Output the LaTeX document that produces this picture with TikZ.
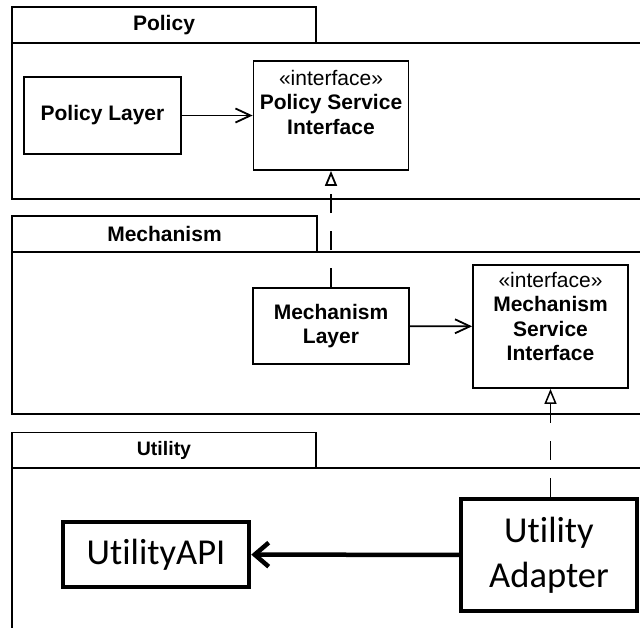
\documentclass[tikz,border=0pt]{standalone}
\usepackage{fontspec}
\setmainfont{Liberation Sans}
\newfontfamily\carlito[Ligatures=NoCommon]{Carlito}
\usetikzlibrary{positioning}
\usetikzlibrary{arrows.meta}

\begin{document}
\begin{tikzpicture}[x=1pt, y=-1pt,
	pkgtab/.style={rectangle, draw, line width=1.8pt, minimum width=304pt, minimum height=36pt, inner sep=0pt, font=\bfseries\fontsize{21}{24}\selectfont},
	pkgbody/.style={line width=1.8pt},
	umlbox/.style={rectangle, draw, line width=1.8pt, inner sep=0pt, align=center, font=\fontsize{21}{24.5}\selectfont},
	newbox/.style={rectangle, draw, line width=4.5pt, inner sep=0pt, align=center, font=\carlito\fontsize{36.5}{45}\selectfont},
	uses/.style={line width=1.8pt, -{Straight Barb[length=15pt, width=14pt]}},
	realizes/.style={line width=1.8pt, dash pattern=on 19pt off 18pt, -{Triangle[open, length=15pt, width=12pt]}},
	calls/.style={line width=4.5pt, -{Straight Barb[length=14pt, width=24pt]}}
	]
		\useasboundingbox (0,0) rectangle (640,627);
		\clip (0,0) rectangle (640,627);

		% Policy package
		\node[pkgtab] (policy_tab) at (164,25) {Policy};
		\draw[pkgbody] (12,43) rectangle (680,199);

		\node[umlbox, minimum width=157pt, minimum height=77pt] (PL) at (102.5,115.5) {\textbf{Policy Layer}};
		\node[umlbox, minimum width=155pt, minimum height=109pt] (PSI) at (331,115.5) {};
		\node[umlbox, draw=none, below=9pt of PSI.north, anchor=north] (PSI_label) {«interface»\\ \textbf{Policy Service}\\ \textbf{Interface}};

		\draw[uses] (PL) -- (PSI);

		% Mechanism package
		\node[pkgtab, minimum width=305pt] (mechanism_tab) at (164.5,234) {Mechanism};
		\draw[pkgbody] (12,252) rectangle (680,414);

		\node[umlbox, minimum width=156pt, minimum height=76pt] (ML) at (331,326) {\textbf{Mechanism}\\ \textbf{Layer}};
		\node[umlbox, minimum width=155pt, minimum height=123pt] (MSI) at (550.5,326.5) {};
		\node[umlbox, draw=none, below=7pt of MSI.north, anchor=north] (MSI_label) {«interface»\\ \textbf{Mechanism}\\ \textbf{Service}\\ \textbf{Interface}};

		\draw[uses] (ML) -- (MSI);
		\draw[realizes] (ML) -- (PSI);

		% Utility package
		\node[pkgtab, font=\bfseries\fontsize{19.5}{23}\selectfont] (utility_tab) at (164,450.5) {Utility};
		\draw[pkgbody] (12,468) rectangle (680,700);

		\node[newbox, minimum width=186pt, minimum height=65pt] (UAPI) at (156,554.5) {UtilityAPI};
		\node[newbox, minimum width=176pt, minimum height=112pt] (UA) at (549,555) {Utility\\ Adapter};

		\draw[calls] (UA) -- (UAPI);
		\draw[realizes, line width=1.5pt] (UA.north -| MSI.south) -- (MSI.south);
\end{tikzpicture}
\end{document}
